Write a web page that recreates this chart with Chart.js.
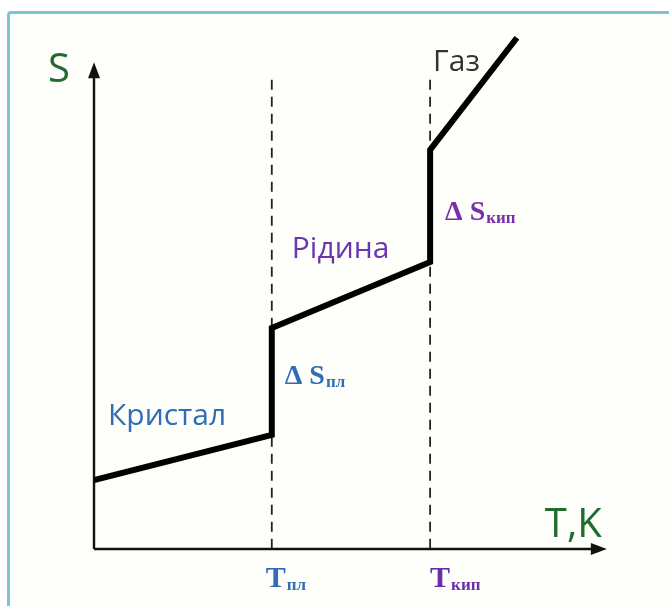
<!DOCTYPE html>
<html>
<head>
<meta charset="utf-8">
<script src="https://cdn.jsdelivr.net/npm/chart.js@4.4.0/dist/chart.umd.min.js"></script>
<style>
  body { margin: 0; background: #ffffff; }
  #frame { position: absolute; left: 7px; top: 11px; width: 700px; height: 640px;
           border: 3px solid #7cc4d8; border-radius: 4px; background: #fefefb; }
  #wrap { position: absolute; left: 0; top: 0; width: 669px; height: 606px; }
</style>
</head>
<body>
<div id="frame"></div>
<div id="wrap"><canvas id="c" width="669" height="606"></canvas></div>
<script>
// T values (0..100 of the axis) and S values along the curve
const curveT = [0, 33.8, 33.8, 63.9, 63.9, 80.4];
const curveS = [13.3, 22.0, 42.6, 55.3, 76.9, 98.5];
// phase transition temperatures
const tMelt = 33.8;
const tBoil = 63.9;
const dashTop = 90.4;
const axisEndT = 97.5;
const axisEndS = 93.8;

const curve = curveT.map((t, i) => ({ x: t, y: curveS[i] }));

// axes with arrows + dashed guides + text labels
const sketch = {
  id: 'sketch',
  beforeDatasetsDraw(chart) {
    const { ctx, scales: { x, y } } = chart;
    const x0 = x.getPixelForValue(0), y0 = y.getPixelForValue(0);
    const xe = x.getPixelForValue(axisEndT), ye = y.getPixelForValue(axisEndS);
    ctx.save();
    // dashed verticals
    ctx.strokeStyle = '#222';
    ctx.lineWidth = 1.8;
    ctx.setLineDash([10, 7]);
    [tMelt, tBoil].forEach(t => {
      const px = x.getPixelForValue(t);
      ctx.beginPath();
      ctx.moveTo(px, y.getPixelForValue(dashTop));
      ctx.lineTo(px, y0);
      ctx.stroke();
    });
    ctx.setLineDash([]);
    // axes
    ctx.strokeStyle = '#111';
    ctx.lineWidth = 2.4;
    ctx.beginPath();
    ctx.moveTo(x0, y0); ctx.lineTo(xe - 8, y0);
    ctx.moveTo(x0, y0); ctx.lineTo(x0, ye + 8);
    ctx.stroke();
    ctx.fillStyle = '#111';
    ctx.beginPath();
    ctx.moveTo(xe, y0); ctx.lineTo(xe - 16, y0 - 6); ctx.lineTo(xe - 16, y0 + 6); ctx.closePath();
    ctx.fill();
    ctx.beginPath();
    ctx.moveTo(x0, ye); ctx.lineTo(x0 - 6, ye + 16); ctx.lineTo(x0 + 6, ye + 16); ctx.closePath();
    ctx.fill();
    ctx.restore();
  },
  afterDraw(chart) {
    const { ctx, scales: { x, y } } = chart;
    const X = v => x.getPixelForValue(v), Y = v => y.getPixelForValue(v);
    ctx.save();
    ctx.textBaseline = 'alphabetic';
    ctx.textAlign = 'left';
    const sans = (s) => s + 'px "Open Sans", "Noto Sans", sans-serif';
    const serif = (s) => 'bold ' + s + 'px "Liberation Serif", "DejaVu Serif", serif';

    ctx.fillStyle = '#1f6b30';
    ctx.font = sans(40);
    ctx.fillText('S', X(0) - 46, Y(axisEndS) + 20);
    ctx.fillText('T,K', X(axisEndT) - 62, Y(0) - 12);

    ctx.fillStyle = '#333';
    ctx.font = sans(30);
    ctx.fillText('Газ', X(tBoil) + 3, Y(curveS[5]) + 33);

    ctx.fillStyle = '#2f6db6';
    ctx.font = sans(30);
    ctx.fillText('Кристал', X(0) + 14, Y(curveS[1]) - 10);

    ctx.fillStyle = '#6a36b0';
    ctx.fillText('Рідина', X(tMelt) + 20, Y(curveS[3]) - 4);

    const sub = (main, s, px, py, col, big, small) => {
      ctx.fillStyle = col;
      ctx.font = serif(big);
      ctx.fillText(main, px, py);
      const w = ctx.measureText(main).width;
      ctx.font = serif(small);
      ctx.fillText(s, px + w + 1, py + 3);
    };
    sub('Δ S', 'пл', X(tMelt) + 13, Y(curveS[2]) + 56, '#2f6db6', 28, 17);
    sub('Δ S', 'кип', X(tBoil) + 15, Y(curveS[4]) + 70, '#7a2eaa', 28, 17);
    sub('T', 'пл', X(tMelt) - 6, Y(0) + 38, '#2f6db6', 30, 17);
    sub('T', 'кип', X(tBoil) + 0, Y(0) + 38, '#6a2eaa', 30, 17);
    ctx.restore();
  }
};

new Chart(document.getElementById('c'), {
  type: 'scatter',
  data: {
    datasets: [{
      data: curve,
      showLine: true,
      borderColor: '#000',
      borderWidth: 6,
      pointRadius: 0,
      borderJoinStyle: 'miter',
      tension: 0
    }]
  },
  options: {
    responsive: false,
    animation: false,
    layout: { padding: { left: 94, right: 49, top: 30, bottom: 57 } },
    plugins: { legend: { display: false }, tooltip: { enabled: false } },
    scales: {
      x: { type: 'linear', min: 0, max: 100, display: false },
      y: { type: 'linear', min: 0, max: 100, display: false }
    }
  },
  plugins: [sketch]
});
</script>
</body>
</html>
